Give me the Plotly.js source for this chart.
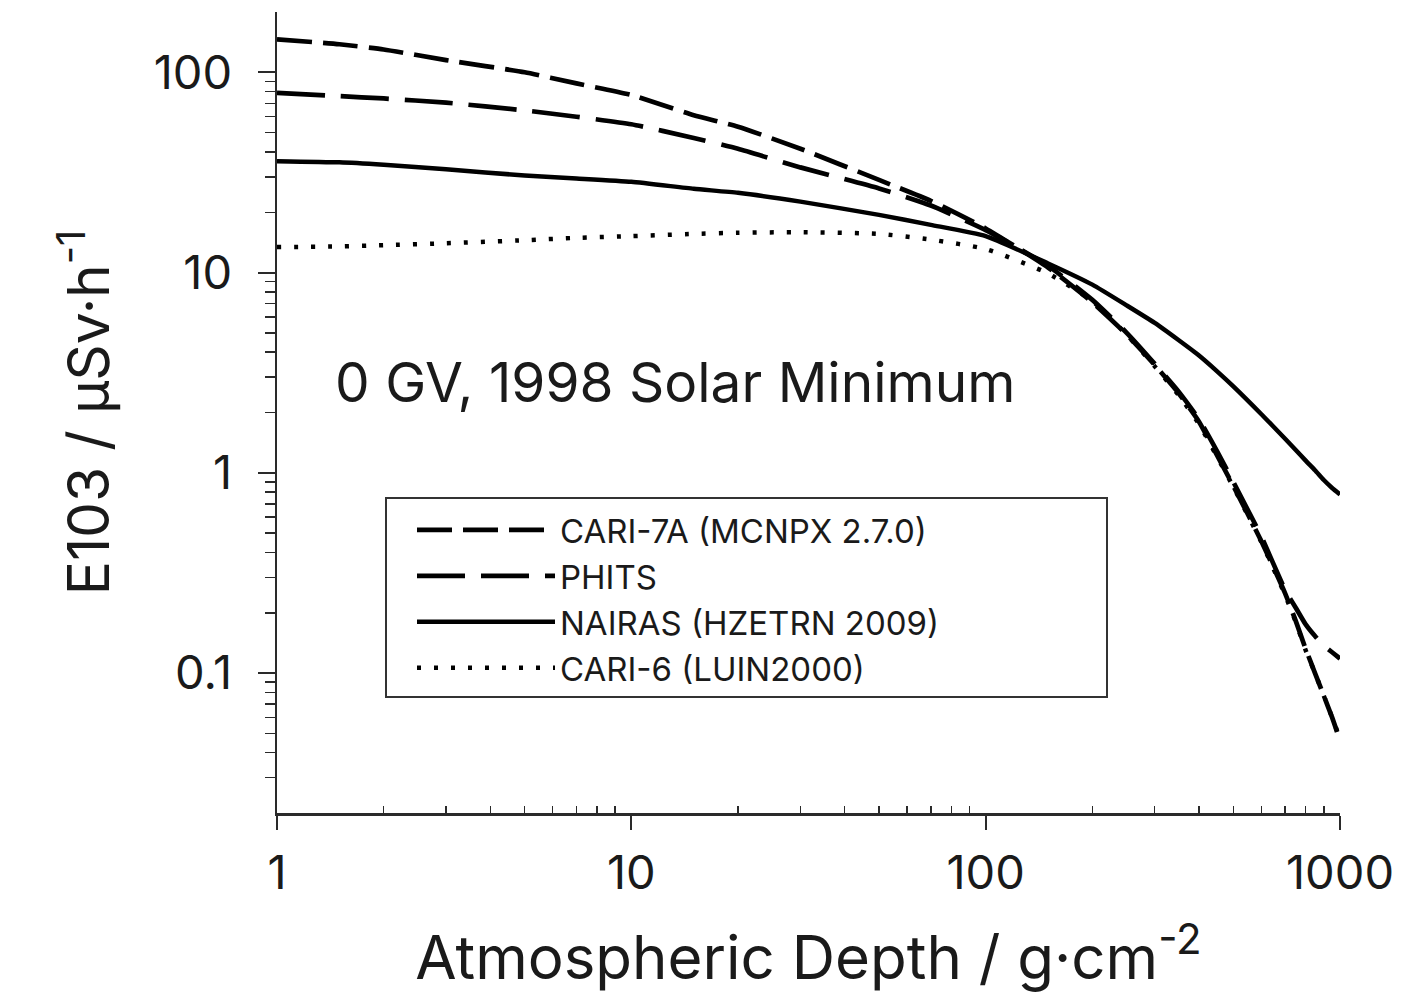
<!DOCTYPE html>
<html><head><meta charset="utf-8">
<script src="https://cdn.plot.ly/plotly-3.0.1.min.js"></script>
<style>html,body{margin:0;padding:0;background:#fff}</style>
</head><body>
<div id="chart" style="width:1414px;height:993px"></div>
<script>
// Atmospheric depth (g/cm^2)
const depth  = [1, 1.5, 2, 3, 5, 7, 10, 15, 20, 30, 50, 70, 100, 150, 200, 250, 300, 350, 400, 450, 500, 600, 700, 750, 800, 850, 900, 950, 1000];
// E103 dose rate (uSv/h)
const cari7a = [146, 138, 130, 115, 100, 88, 77, 61, 53.5, 41.5, 29, 22.8, 16.6, 10.6, 7.1, 4.9, 3.45, 2.5, 1.8, 1.22, 0.86, 0.455, 0.25, 0.182, 0.132, 0.1, 0.077, 0.06, 0.046];
const phits  = [79, 76, 74, 70.5, 64.5, 60, 55, 47, 41.5, 33.5, 26.3, 21.6, 16.3, 10.8, 7.3, 5.0, 3.5, 2.55, 1.85, 1.28, 0.9, 0.48, 0.26, 0.212, 0.175, 0.153, 0.137, 0.127, 0.118];
const nairas = [36, 35.5, 34.5, 32.8, 30.5, 29.5, 28.4, 26.2, 25, 22.6, 19.4, 17.3, 15.2, 11.1, 8.7, 6.85, 5.6, 4.6, 3.85, 3.21, 2.7, 1.96, 1.48, 1.3, 1.15, 1.03, 0.92, 0.84, 0.78];
const cari6  = [13.4, 13.5, 13.7, 14.0, 14.5, 14.9, 15.2, 15.6, 15.8, 15.9, 15.6, 14.6, 13.1, 9.9, 7.2, 4.9, 3.4, 2.45, 1.75, 1.2, 0.85, 0.45, 0.245, 0.18, 0.13, 0.1, 0.077, 0.06, 0.047];

const seriesNames = ['CARI-7A (MCNPX 2.7.0)', 'PHITS', 'NAIRAS (HZETRN 2009)', 'CARI-6 (LUIN2000)'];
const xTickVals = [1, 10, 100, 1000];
const xTickText = ['1', '10', '100', '1000'];
const yTickVals = [0.1, 1, 10, 100];
const yTickText = ['0.1', '1', '10', '100'];
const xRange = [1, 1000];
const yRange = [0.02, 200];
const annotationText = '0 GV, 1998 Solar Minimum';

function minorTicks(lo, hi) {
  const out = [];
  for (let d = Math.floor(Math.log10(lo)); d <= Math.ceil(Math.log10(hi)); d++) {
    for (let k = 2; k <= 9; k++) {
      const v = k * Math.pow(10, d);
      if (v > lo * 1.0001 && v < hi * 0.9999) out.push(v);
    }
  }
  return out;
}
const xMinor = minorTicks(xRange[0], xRange[1]);
const yMinor = minorTicks(yRange[0], yRange[1]);

const FONT = 'Inter, "Liberation Sans", Arial, sans-serif';
const INK = '#1a1a1a';
const AX = '#2a2a2a';

// plot-area pixel geometry used for paper-coordinate placement
const PL = 277, PR = 1340, PT = 12, PB = 813;
const px2x = p => (p - PL) / (PR - PL);
const px2y = p => (PB - p) / (PB - PT);

const styles = [
  {dash: '35px,11px', width: 4.7},
  {dash: '48px,16px', width: 4.7},
  {dash: 'solid', width: 4.5},
  {dash: '4px,13px', width: 4.5}
];
const ys = [cari7a, phits, nairas, cari6];
const traces = ys.map((y, i) => ({
  x: depth, y: y, type: 'scatter', mode: 'lines', name: seriesNames[i],
  line: {color: '#000', width: styles[i].width, dash: styles[i].dash, shape: 'spline', smoothing: 0.5},
  hoverinfo: 'x+y+name'
}));

const baseAxis = {
  type: 'log', showline: true, linecolor: AX, linewidth: 2.5,
  showgrid: false, zeroline: false, tickcolor: AX, tickwidth: 2
};

const layout = {
  width: 1414, height: 993,
  margin: {l: PL, r: 1414 - PR, t: PT, b: 993 - PB},
  paper_bgcolor: '#fff', plot_bgcolor: '#fff',
  font: {family: FONT, color: INK},
  showlegend: true,
  legend: {
    x: px2x(412), y: px2y(502), xanchor: 'left', yanchor: 'top',
    borderwidth: 0, bgcolor: 'rgba(0,0,0,0)',
    font: {size: 33, family: FONT, color: INK}, itemwidth: 138, tracegroupgap: 0
  },
  shapes: [{
    type: 'rect', xref: 'paper', yref: 'paper',
    x0: px2x(386), x1: px2x(1107), y0: px2y(697), y1: px2y(498),
    line: {color: '#333', width: 2}, fillcolor: 'rgba(0,0,0,0)', layer: 'above'
  }],
  xaxis: Object.assign({}, baseAxis, {
    range: [Math.log10(xRange[0]), Math.log10(xRange[1])],
    ticks: 'outside', ticklen: 14, tickvals: xTickVals, ticktext: xTickText,
    tickfont: {size: 47, family: FONT, color: INK}, ticklabelstandoff: 3,
    minor: {ticks: 'inside', ticklen: 7, tickwidth: 1.5, tickcolor: AX, tickvals: xMinor, showgrid: false},
    title: {text: 'Atmospheric Depth / g·cm<sup>-2</sup>', font: {size: 60, family: FONT, color: INK}, standoff: 44}
  }),
  xaxis2: Object.assign({}, baseAxis, {
    range: [Math.log10(xRange[0]), Math.log10(xRange[1])],
    overlaying: 'x', side: 'top', anchor: 'y',
    ticks: 'inside', ticklen: 11, tickvals: xTickVals, showticklabels: false,
    minor: {ticks: 'inside', ticklen: 6, tickwidth: 1.5, tickcolor: AX, tickvals: xMinor, showgrid: false}
  }),
  yaxis: Object.assign({}, baseAxis, {
    range: [Math.log10(yRange[0]), Math.log10(yRange[1])],
    ticks: 'outside', ticklen: 17, tickvals: yTickVals, ticktext: yTickText,
    tickfont: {size: 47, family: FONT, color: INK}, ticklabelstandoff: 16,
    minor: {ticks: 'outside', ticklen: 10, tickwidth: 1.5, tickcolor: AX, tickvals: yMinor, showgrid: false},
    title: {text: 'E103 / µSv·h<sup>-1</sup>', font: {size: 57, family: FONT, color: INK}, standoff: 26}
  }),
  yaxis2: Object.assign({}, baseAxis, {
    range: [Math.log10(yRange[0]), Math.log10(yRange[1])],
    overlaying: 'y', side: 'right', anchor: 'x',
    ticks: 'inside', ticklen: 12, tickvals: yTickVals, showticklabels: false,
    minor: {ticks: 'inside', ticklen: 8, tickwidth: 1.5, tickcolor: AX, tickvals: yMinor, showgrid: false}
  }),
  annotations: [{
    text: annotationText, xref: 'paper', yref: 'paper',
    x: px2x(333), y: px2y(382), xanchor: 'left', yanchor: 'middle',
    showarrow: false, font: {size: 55, family: FONT, color: INK}
  }]
};

Plotly.newPlot('chart', traces, layout, {displayModeBar: false, staticPlot: true});
</script>
</body></html>
